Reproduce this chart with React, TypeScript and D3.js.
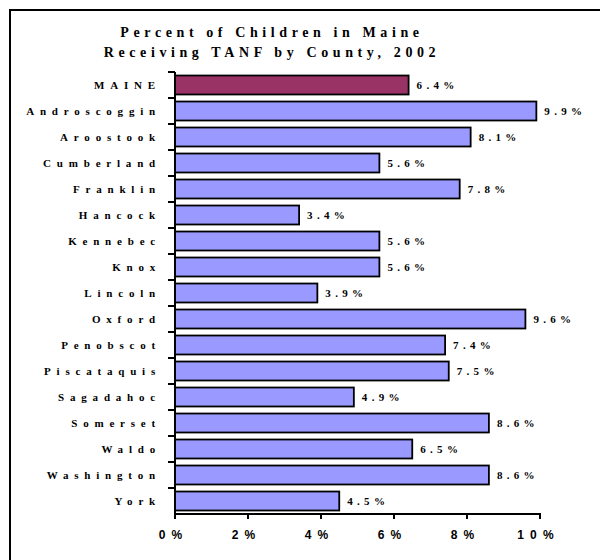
import { scaleBand, scaleLinear } from 'd3'

const counties = [
  'MAINE',
  'Androscoggin',
  'Aroostook',
  'Cumberland',
  'Franklin',
  'Hancock',
  'Kennebec',
  'Knox',
  'Lincoln',
  'Oxford',
  'Penobscot',
  'Piscataquis',
  'Sagadahoc',
  'Somerset',
  'Waldo',
  'Washington',
  'York',
]

const percents = [6.4, 9.9, 8.1, 5.6, 7.8, 3.4, 5.6, 5.6, 3.9, 9.6, 7.4, 7.5, 4.9, 8.6, 6.5, 8.6, 4.5]

const xTicks = [0, 2, 4, 6, 8, 10]

const titleLines = ['Percent of Children in Maine', 'Receiving TANF by County, 2002']

const width = 600
const height = 560
const plot = { left: 175, right: 540, top: 72, bottom: 514 }

const serif = '"Liberation Serif", "Times New Roman", serif'
const sans = '"Liberation Sans", Arial, sans-serif'

export default function App() {
  const xScale = scaleLinear().domain([0, 10]).range([plot.left, plot.right])
  const yScale = scaleBand<string>()
    .domain(counties)
    .range([plot.top, plot.bottom])
    .paddingInner(0.27)
    .paddingOuter(0.135)
  const step = yScale.step()
  const boundaries = counties.map((_, i) => plot.top + i * step)

  return (
    <svg
      width={width}
      height={height}
      viewBox={`0 0 ${width} ${height}`}
      style={{ position: 'absolute', left: 0, top: 0, background: '#fff' }}
    >
      <rect x={10} y={10} width={620} height={600} fill="none" stroke="#000" strokeWidth={2} />

      {titleLines.map((line, i) => (
        <text
          key={line}
          x={272}
          y={37 + i * 20}
          textAnchor="middle"
          fontFamily={serif}
          fontWeight="bold"
          fontSize={14}
          letterSpacing={4.6}
        >
          {line}
        </text>
      ))}

      {counties.map((county, i) => (
        <g key={county}>
          <rect
            x={xScale(0)}
            y={yScale(county)}
            width={xScale(percents[i]) - xScale(0)}
            height={yScale.bandwidth()}
            fill={i === 0 ? '#993366' : '#9999ff'}
            stroke="#000"
            strokeWidth={1.8}
          />
          <text
            x={xScale(percents[i]) + 8}
            y={(yScale(county) ?? 0) + yScale.bandwidth() / 2}
            dy="0.32em"
            fontFamily={serif}
            fontWeight="bold"
            fontSize={11}
            letterSpacing={4.3}
          >
            {`${percents[i].toFixed(1)}%`}
          </text>
          <text
            x={161}
            y={(yScale(county) ?? 0) + yScale.bandwidth() / 2}
            dy="0.32em"
            textAnchor="end"
            fontFamily={serif}
            fontWeight="bold"
            fontSize={11}
            letterSpacing={5.8}
          >
            {county}
          </text>
        </g>
      ))}

      <g stroke="#000" strokeWidth={2}>
        <line x1={plot.left} x2={plot.left} y1={plot.top} y2={plot.bottom + 1} />
        <line x1={plot.left - 1} x2={plot.right + 1} y1={plot.bottom} y2={plot.bottom} />
        {boundaries.map((y) => (
          <line key={y} x1={plot.left - 7} x2={plot.left} y1={y} y2={y} />
        ))}
        {xTicks.map((t) => (
          <line key={t} x1={xScale(t)} x2={xScale(t)} y1={plot.bottom} y2={plot.bottom + 5} />
        ))}
      </g>

      {xTicks.map((t) => (
        <text
          key={t}
          x={xScale(t) - 1.5}
          y={539}
          textAnchor="middle"
          fontFamily={sans}
          fontWeight="bold"
          fontSize={12}
          letterSpacing={6.2}
        >
          {`${t}%`}
        </text>
      ))}
    </svg>
  )
}
